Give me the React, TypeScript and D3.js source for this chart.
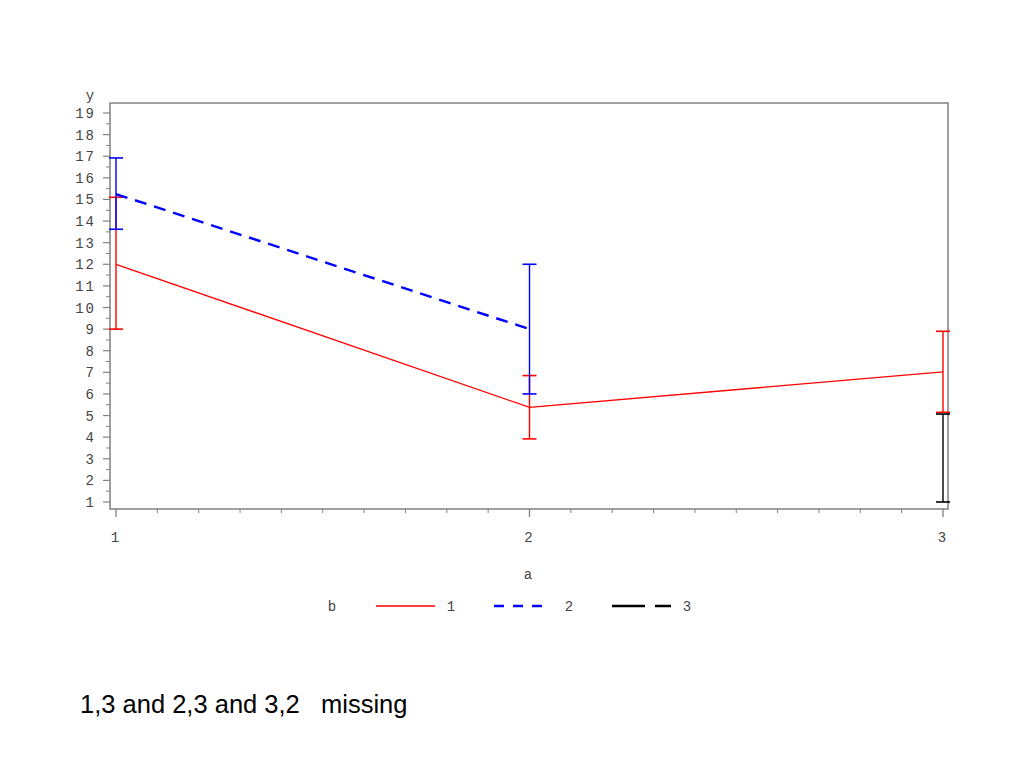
import React from "react";
import * as d3 from "d3";

const aValues = [1, 2, 3];
const yTicks = d3.range(1, 20);
const seriesNames = ["1", "2", "3"];
const series1Mean = [12.0, 5.38, 7.02];
const series1Low = [9.0, 3.92, 5.15];
const series1High = [15.1, 6.85, 8.9];
const series2Mean = [15.25, 9.0, null];
const series2Low = [13.62, 6.0, null];
const series2High = [16.92, 12.0, null];
const series3Mean = [null, null, 3.0];
const series3Low = [null, null, 1.0];
const series3High = [null, null, 5.07];
const footnote = "1,3 and 2,3 and 3,2   missing";

type S = { name: string; mean: (number | null)[]; low: (number | null)[]; high: (number | null)[]; color: string; width: number; dash?: string };

const seriesList: S[] = [
  { name: seriesNames[0], mean: series1Mean, low: series1Low, high: series1High, color: "#ff0000", width: 1.3 },
  { name: seriesNames[1], mean: series2Mean, low: series2Low, high: series2High, color: "#0000ff", width: 2.4, dash: "12 8" },
  { name: seriesNames[2], mean: series3Mean, low: series3Low, high: series3High, color: "#000000", width: 2.2, dash: "33 10" },
];

export default function App() {
  const left = 110, right = 948, top = 103, bottom = 509;
  const x = d3.scaleLinear().domain([1, 3]).range([116, 943]);
  const y = d3.scaleLinear().domain([1, 19]).range([502, 113]);
  const xMinor = d3.range(10, 31).map((v) => v / 10);
  const yMinor = d3.range(1, 19).map((v) => v + 0.5);
  const font = "'Liberation Mono', 'DejaVu Sans Mono', monospace";
  const txt = "#444";
  const axisCol = "#808080";
  const line = d3.line<[number, number | null]>()
    .defined((d) => d[1] !== null)
    .x((d) => x(d[0]))
    .y((d) => y(d[1] as number));
  const cap = 7;
  return (
    <svg width={1024} height={768} style={{ position: "absolute", left: 0, top: 0 }}>
      <rect width={1024} height={768} fill="#fff" />
      <rect x={left} y={top} width={right - left} height={bottom - top} fill="none" stroke={axisCol} strokeWidth={1.5} />
      {yTicks.map((t) => (
        <g key={"y" + t}>
          <line x1={left - 7} x2={left} y1={y(t)} y2={y(t)} stroke={axisCol} strokeWidth={1.2} />
          <text x={96} y={y(t) + 5} textAnchor="end" fontFamily={font} fontSize={14} fill={txt} letterSpacing={2}>{t}</text>
        </g>
      ))}
      {yMinor.map((t) => (
        <line key={"ym" + t} x1={left - 4} x2={left} y1={y(t)} y2={y(t)} stroke={axisCol} strokeWidth={1} />
      ))}
      {xMinor.map((t) => {
        const major = Math.abs(t - Math.round(t)) < 1e-6;
        return <line key={"xm" + t} x1={x(t)} x2={x(t)} y1={bottom} y2={bottom + (major ? 8 : 4)} stroke={axisCol} strokeWidth={major ? 1.3 : 1} />;
      })}
      {aValues.map((a) => (
        <text key={"xl" + a} x={x(a) - 1} y={542} textAnchor="middle" fontFamily={font} fontSize={14} fill={txt}>{a}</text>
      ))}
      <text x={90} y={100} textAnchor="middle" fontFamily={font} fontSize={14} fill={txt}>y</text>
      <text x={528} y={579} textAnchor="middle" fontFamily={font} fontSize={14} fill={txt}>a</text>
      {seriesList.map((s) => (
        <g key={"s" + s.name}>
          <path d={line(aValues.map((a, i) => [a, s.mean[i]] as [number, number | null])) || ""} fill="none" stroke={s.color} strokeWidth={s.width} strokeDasharray={s.dash} />
          {aValues.map((a, i) => {
            const lo = s.low[i], hi = s.high[i];
            if (lo === null || hi === null) return null;
            const cx = x(a);
            return (
              <g key={"e" + a}>
                <line x1={cx} x2={cx} y1={y(lo)} y2={y(hi)} stroke={s.color} strokeWidth={1.4} />
                <line x1={cx - cap} x2={cx + cap} y1={y(lo)} y2={y(lo)} stroke={s.color} strokeWidth={1.6} />
                <line x1={cx - cap} x2={cx + cap} y1={y(hi)} y2={y(hi)} stroke={s.color} strokeWidth={1.6} />
              </g>
            );
          })}
        </g>
      ))}
      <text x={332} y={611} textAnchor="middle" fontFamily={font} fontSize={14} fill={txt}>b</text>
      {seriesList.map((s, i) => {
        const x0 = 376 + i * 118;
        return (
          <g key={"lg" + s.name}>
            <line x1={x0} x2={x0 + (i === 1 ? 53 : 59)} y1={606} y2={606} stroke={s.color} strokeWidth={i === 0 ? 1.3 : 2.4} strokeDasharray={i === 1 ? "10 9" : s.dash} />
            <text x={x0 + 75} y={611} textAnchor="middle" fontFamily={font} fontSize={14} fill={txt}>{s.name}</text>
          </g>
        );
      })}
      <text x={80} y={713} fontFamily="'Liberation Sans', Arial, sans-serif" fontSize={25.5} fill="#000" style={{ whiteSpace: "pre" }} xmlSpace="preserve">{footnote}</text>
    </svg>
  );
}
